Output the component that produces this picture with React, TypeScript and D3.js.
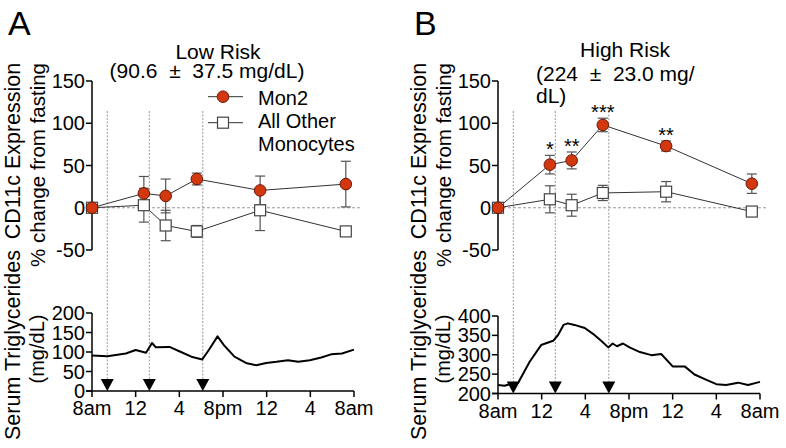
import React from "react";
import * as d3 from "d3";

// ---------- data ----------
const sampleHours = [0, 4.75, 6.75, 9.6, 15.4, 23.25];
const mealHours = [1.4, 5.25, 10.15];
const xTickHours = [0, 4, 8, 12, 16, 20, 24];
const xTickLabels = ["8am", "12", "4", "8pm", "12", "4", "8am"];
const topYTicks = [-50, 0, 50, 100, 150];

const mon2A = [0, 17, 14, 34, 20.5, 28];
const mon2AErr = [0, 20, 20, 7, 17, 27];
const otherA = [0, 3, -21, -28, -3, -28];
const otherAErr = [0, 20, 18, 7, 24, 5];
const starsA = ["", "", "", "", "", ""];

const mon2B = [0, 51, 56, 98, 73, 28.5];
const mon2BErr = [0, 11, 10, 8, 6, 11.5];
const otherB = [0, 10, 3, 17.5, 19, -4.5];
const otherBErr = [0, 16, 13, 9, 12, 2];
const starsB = ["", "*", "**", "***", "**", ""];

const trigAHours = [0, 1.4, 3.1, 4.0, 4.95, 5.5, 5.85, 7.1, 8.15, 9.1, 10.1, 10.7, 11.5, 12.1, 13.05, 14.1, 15.05, 15.95, 16.9, 17.95, 18.9, 19.95, 21.0, 21.9, 22.9, 24];
const trigAValues = [91, 89, 96, 105, 98, 123, 112, 113, 100, 88, 81, 105, 140, 117, 88, 72, 66, 72, 75, 79, 75, 79, 86, 94, 96, 106];
const trigATicks = [0, 50, 100, 150, 200];

const trigBHours = [0, 0.6, 1.45, 1.85, 2.9, 3.95, 5.05, 5.5, 6.0, 6.4, 7.0, 7.95, 8.7, 9.45, 10.1, 10.5, 10.9, 11.45, 12.05, 13.0, 14.05, 14.95, 16.0, 17.1, 18.0, 19.1, 20.0, 20.9, 22.0, 22.9, 24];
const trigBValues = [222, 220, 227, 228, 282, 325, 336, 351, 377, 381, 377, 369, 354, 336, 319, 329, 322, 329, 319, 307, 299, 302, 270, 270, 249, 235, 224, 222, 228, 222, 230];
const trigBTicks = [200, 250, 300, 350, 400];

const FONT = "Liberation Sans, Arial, Helvetica, sans-serif";
const RED = "#d2370f";

type PanelProps = {
  letter: string;
  x0: number;
  x1: number;
  mon2: number[];
  mon2Err: number[];
  other: number[];
  otherErr: number[];
  stars: string[];
  trigHours: number[];
  trigValues: number[];
  trigTicks: number[];
  trigY0: number;
  trigY1: number;
  title: React.ReactNode;
  legend: boolean;
};

function Panel(p: PanelProps) {
  const x = d3.scaleLinear().domain([0, 24]).range([p.x0, p.x1]);
  const y = d3.scaleLinear().domain([-50, 150]).range([250, 81]);
  const yt = d3
    .scaleLinear()
    .domain([p.trigTicks[0], p.trigTicks[p.trigTicks.length - 1]])
    .range([p.trigY0, p.trigY1]);
  const ax = p.x0;
  const line = d3.line<number>().x((_, i) => x(sampleHours[i])).y((v) => y(v));
  const trigLine = d3
    .line<number>()
    .x((_, i) => x(p.trigHours[i]))
    .y((v) => yt(v));
  const base = p.trigY0;

  const errBar = (v: number, e: number, i: number, key: string) => {
    if (!e) return null;
    const cx = x(sampleHours[i]);
    return (
      <g key={key} stroke="#555" strokeWidth={1.2}>
        <line x1={cx} x2={cx} y1={y(v - e)} y2={y(v + e)} />
        <line x1={cx - 5} x2={cx + 5} y1={y(v + e)} y2={y(v + e)} />
        <line x1={cx - 5} x2={cx + 5} y1={y(v - e)} y2={y(v - e)} />
      </g>
    );
  };

  return (
    <g fontFamily={FONT} fill="#000">
      <text x={ax - 84} y={35} fontSize={34}>
        {p.letter}
      </text>
      {p.title}
      {/* axis labels */}
      <text transform={`translate(${ax - 72},151) rotate(-90)`} textAnchor="middle" fontSize={21.5}>
        CD11c Expression
      </text>
      <text transform={`translate(${ax - 47},165) rotate(-90)`} textAnchor="middle" fontSize={20.5}>
        % change from fasting
      </text>
      <text transform={`translate(${ax - 72},345) rotate(-90)`} textAnchor="middle" fontSize={21.5}>
        Serum Triglycerides
      </text>
      <text transform={`translate(${ax - 48},349) rotate(-90)`} textAnchor="middle" fontSize={20}>
        (mg/dL)
      </text>

      {/* meal dotted lines */}
      {mealHours.map((h, i) => (
        <line key={"m" + i} x1={x(h)} x2={x(h)} y1={111} y2={base - 10} stroke="#999" strokeWidth={1} strokeDasharray="2,1.5" />
      ))}
      {/* zero line */}
      <line x1={ax} x2={p.x1 + 6} y1={y(0)} y2={y(0)} stroke="#999" strokeWidth={1} strokeDasharray="3,2" />

      {/* top y axis */}
      <line x1={ax} x2={ax} y1={y(-50)} y2={y(150)} stroke="#000" strokeWidth={1.5} />
      {topYTicks.map((t) => (
        <g key={"yt" + t}>
          <line x1={ax - 6} x2={ax} y1={y(t)} y2={y(t)} stroke="#000" strokeWidth={1.5} />
          <text x={ax - 7} y={y(t) + 7} textAnchor="end" fontSize={20}>
            {t}
          </text>
        </g>
      ))}

      {/* error bars */}
      {p.other.map((v, i) => errBar(v, p.otherErr[i], i, "oe" + i))}
      {p.mon2.map((v, i) => errBar(v, p.mon2Err[i], i, "me" + i))}
      <path d={line(p.other) || ""} fill="none" stroke="#333" strokeWidth={1} />
      <path d={line(p.mon2) || ""} fill="none" stroke="#333" strokeWidth={1} />
      {p.other.map((v, i) => (
        <rect key={"os" + i} x={x(sampleHours[i]) - 5.5} y={y(v) - 5.5} width={11} height={11} fill="#fff" stroke="#444" strokeWidth={1.2} />
      ))}
      {p.mon2.map((v, i) => (
        <circle key={"mc" + i} cx={x(sampleHours[i])} cy={y(v)} r={5.8} fill={RED} stroke="#6b1a05" strokeWidth={1} />
      ))}
      {p.stars.map((s, i) =>
        s ? (
          <text key={"st" + i} x={x(sampleHours[i])} y={y(p.mon2[i] + p.mon2Err[i]) + 1} textAnchor="middle" fontSize={20}>
            {s}
          </text>
        ) : null
      )}

      {p.legend && (
        <g>
          <line x1={208} x2={243} y1={96.7} y2={96.7} stroke="#333" strokeWidth={1} />
          <circle cx={223} cy={96.7} r={5.8} fill={RED} stroke="#6b1a05" strokeWidth={1} />
          <line x1={208} x2={243} y1={122.7} y2={122.7} stroke="#333" strokeWidth={1} />
          <rect x={217.5} y={117.2} width={11} height={11} fill="#fff" stroke="#444" strokeWidth={1.2} />
          <text x={258} y={105} fontSize={20}>Mon2</text>
          <text x={258} y={128} fontSize={20}>All Other</text>
          <text x={258} y={151} fontSize={20}>Monocytes</text>
        </g>
      )}

      {/* bottom triglyceride plot */}
      <path d={trigLine(p.trigValues) || ""} fill="none" stroke="#000" strokeWidth={2} strokeLinejoin="round" />
      <line x1={ax} x2={ax} y1={p.trigY1} y2={base} stroke="#000" strokeWidth={1.5} />
      <line x1={ax - 6} x2={p.x1} y1={base} y2={base} stroke="#000" strokeWidth={1.5} />
      {p.trigTicks.map((t) => (
        <g key={"tt" + t}>
          <line x1={ax - 6} x2={ax} y1={yt(t)} y2={yt(t)} stroke="#000" strokeWidth={1.5} />
          <text x={ax - 7} y={yt(t) + 7} textAnchor="end" fontSize={20}>
            {t}
          </text>
        </g>
      ))}
      {xTickHours.map((h, i) => (
        <g key={"xt" + h}>
          <line x1={x(h)} x2={x(h)} y1={base} y2={base + 6} stroke="#000" strokeWidth={1.5} />
          <text x={x(h)} y={base + 24} textAnchor="middle" fontSize={20}>
            {xTickLabels[i]}
          </text>
        </g>
      ))}
      {mealHours.map((h, i) => (
        <path key={"ar" + i} d={`M${x(h) - 6.5},${base - 12} L${x(h) + 6.5},${base - 12} L${x(h)},${base} Z`} fill="#000" />
      ))}
    </g>
  );
}

export default function App() {
  return (
    <svg width={786} height={448} style={{ position: "absolute", left: 0, top: 0, background: "#fff" }}>
      <rect width={786} height={448} fill="#fff" />
      <Panel
        letter="A"
        x0={92}
        x1={354}
        mon2={mon2A}
        mon2Err={mon2AErr}
        other={otherA}
        otherErr={otherAErr}
        stars={starsA}
        trigHours={trigAHours}
        trigValues={trigAValues}
        trigTicks={trigATicks}
        trigY0={391}
        trigY1={313}
        legend={true}
        title={
          <g fontSize={21}>
            <text x={218} y={59} textAnchor="middle">Low Risk</text>
            <text x={207} y={78} textAnchor="middle" style={{ whiteSpace: "pre" }}>
              {"(90.6  \u00b1  37.5 mg/dL)"}
            </text>
          </g>
        }
      />
      <Panel
        letter="B"
        x0={498}
        x1={760}
        mon2={mon2B}
        mon2Err={mon2BErr}
        other={otherB}
        otherErr={otherBErr}
        stars={starsB}
        trigHours={trigBHours}
        trigValues={trigBValues}
        trigTicks={trigBTicks}
        trigY0={393.5}
        trigY1={316}
        legend={false}
        title={
          <g fontSize={21}>
            <text x={625} y={57} textAnchor="middle">High Risk</text>
            <text x={536} y={81} style={{ whiteSpace: "pre" }}>
              {"(224  \u00b1  23.0 mg/"}
            </text>
            <text x={536} y={103}>dL)</text>
          </g>
        }
      />
    </svg>
  );
}
